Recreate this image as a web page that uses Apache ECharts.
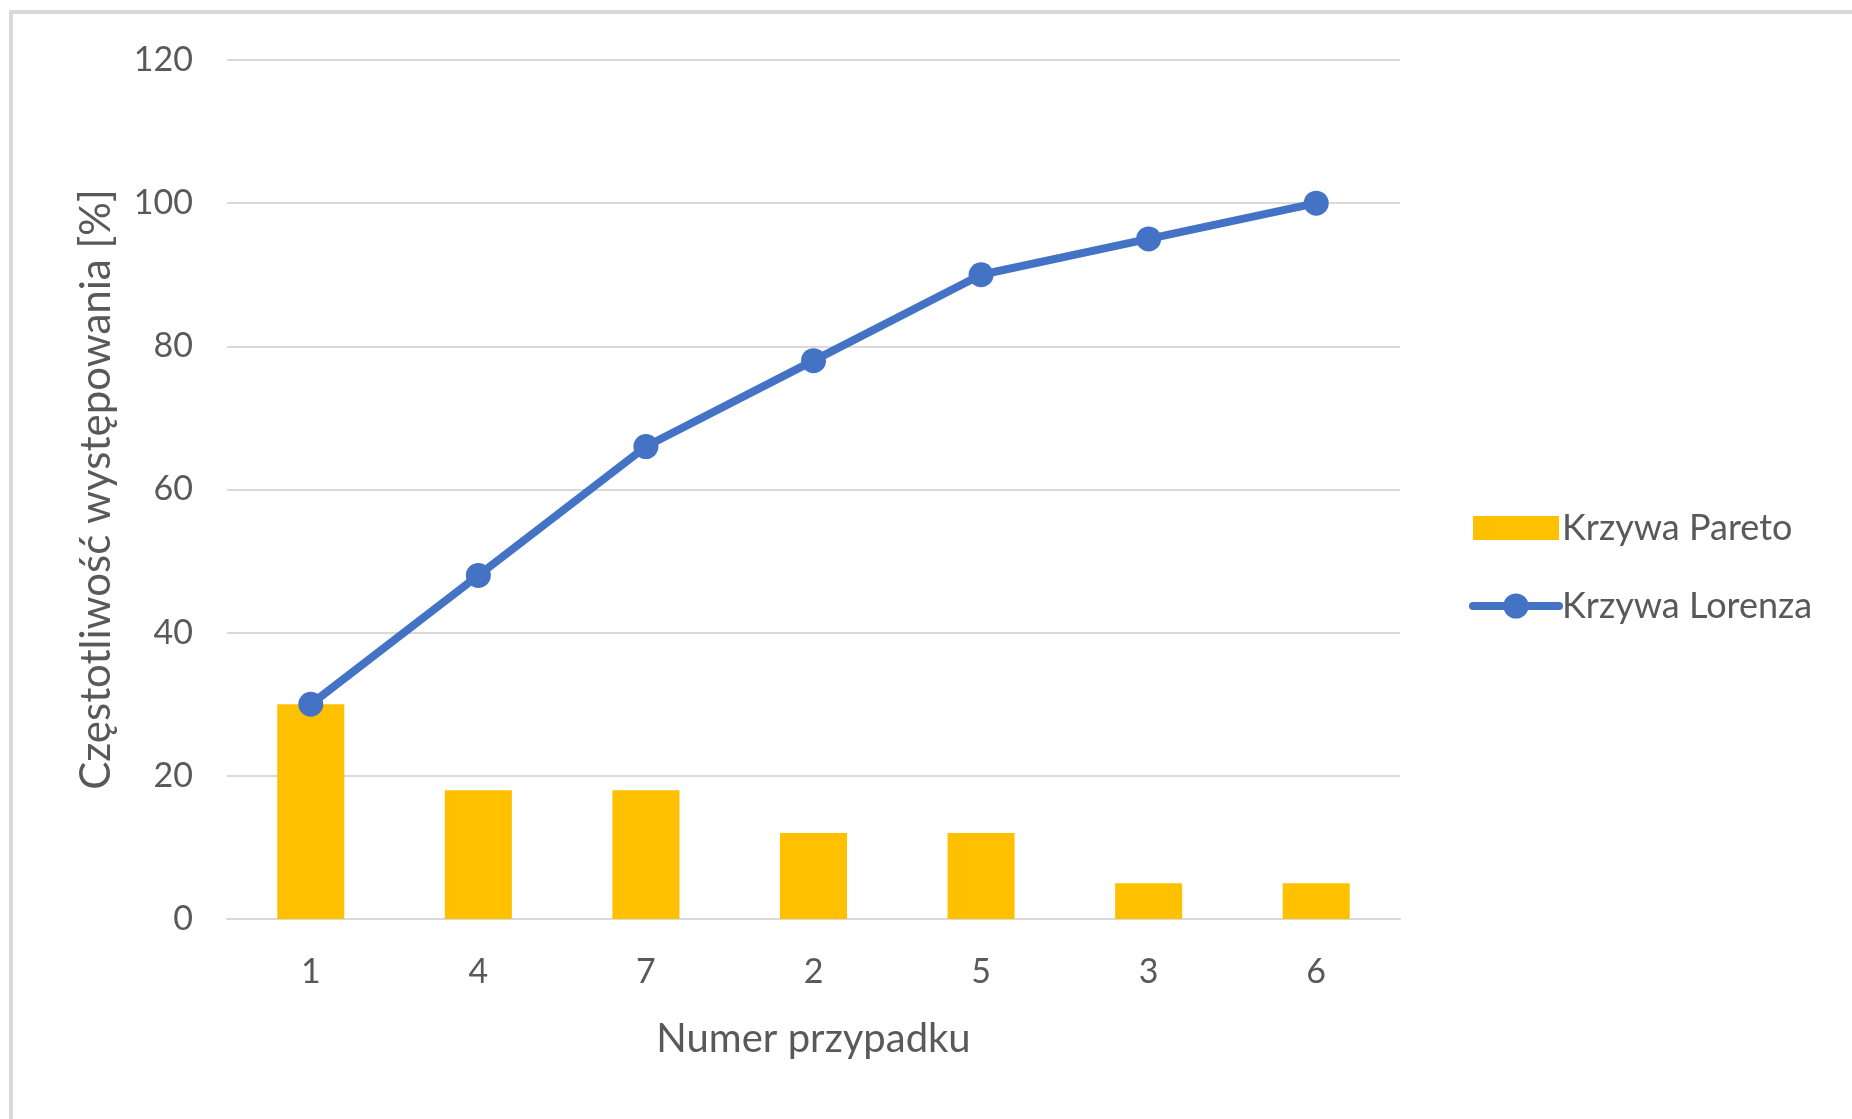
<!DOCTYPE html>
<html>
<head>
<meta charset="utf-8">
<script src="https://cdn.jsdelivr.net/npm/echarts@6/dist/echarts.min.js"></script>
<style>
  html, body { margin: 0; padding: 0; background: #ffffff; }
  #frame {
    position: absolute; left: 9px; top: 10px; width: 1900px; height: 1200px;
    border: 4px solid #d9d9d9; box-sizing: border-box; background: #ffffff;
  }
  #chart { position: absolute; left: 0; top: 0; width: 1852px; height: 1119px; }
</style>
</head>
<body>
<div id="frame"></div>
<div id="chart"></div>
<script>
// Case numbers sorted by share of occurrences
const categories = ['1', '4', '7', '2', '5', '3', '6'];
// Share of each case [%]
const paretoValues = [30, 18, 18, 12, 12, 5, 5];
// Cumulative share [%]
const lorenzValues = [30, 48, 66, 78, 90, 95, 100];
const yTicks = [0, 20, 40, 60, 80, 100, 120];

const FONT = 'Lato, "Open Sans", sans-serif';
const TEXT = '#595959';
const BLUE = '#4472c4';
const GOLD = '#ffc000';

const chart = echarts.init(document.getElementById('chart'), null, { renderer: 'canvas' });
chart.setOption({
  backgroundColor: 'transparent',
  animation: false,
  grid: { left: 227, right: 452, top: 60, bottom: 200, containLabel: false },
  legend: {
    orient: 'vertical',
    left: 1464, top: 505,
    itemWidth: 86, itemHeight: 24, itemGap: 42,
    textStyle: { fontFamily: FONT, fontSize: 36, color: TEXT, padding: [0, 0, 0, -2] },
    data: [
      { name: 'Krzywa Pareto', icon: 'rect', itemStyle: { color: GOLD } },
      {
        name: 'Krzywa Lorenza',
        itemStyle: { color: BLUE, borderColor: BLUE, borderWidth: 6 },
        lineStyle: { color: BLUE, width: 8, cap: 'round' }
      }
    ]
  },
  xAxis: {
    type: 'category',
    data: categories,
    name: 'Numer przypadku',
    nameLocation: 'middle',
    nameGap: 100,
    nameTextStyle: { fontFamily: FONT, fontSize: 40, color: TEXT },
    axisLine: { lineStyle: { color: '#d9d9d9', width: 2 } },
    axisTick: { show: false },
    axisLabel: { fontFamily: FONT, fontSize: 34, color: TEXT, margin: 36 }
  },
  yAxis: {
    type: 'value',
    min: yTicks[0], max: yTicks[yTicks.length - 1], interval: 20,
    name: 'Częstotliwość występowania [%]',
    nameLocation: 'middle',
    nameGap: 110,
    nameRotate: 90,
    nameTextStyle: { fontFamily: FONT, fontSize: 42, color: TEXT },
    axisLine: { show: false },
    axisTick: { show: false },
    axisLabel: { fontFamily: FONT, fontSize: 34, color: TEXT, margin: 34 },
    splitLine: { lineStyle: { color: '#d9d9d9', width: 2 } }
  },
  series: [
    {
      name: 'Krzywa Pareto',
      type: 'bar',
      data: paretoValues,
      barWidth: '40%',
      itemStyle: { color: GOLD }
    },
    {
      name: 'Krzywa Lorenza',
      type: 'line',
      data: lorenzValues,
      symbol: 'circle',
      symbolSize: 25,
      lineStyle: { color: BLUE, width: 8 },
      itemStyle: { color: BLUE }
    }
  ]
});
</script>
</body>
</html>
